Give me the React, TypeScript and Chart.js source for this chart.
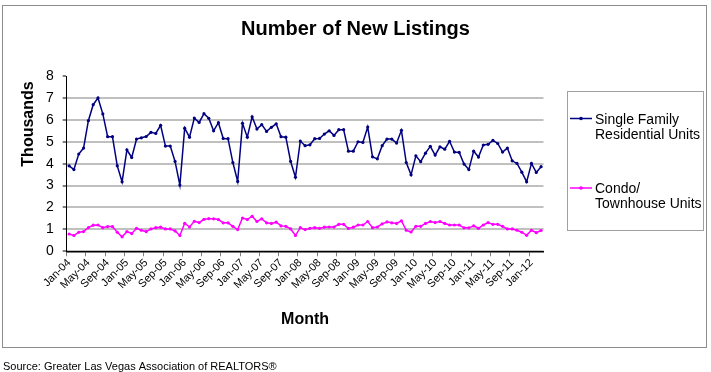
import React, { useEffect, useRef } from 'react';
import { Chart, registerables } from 'chart.js';

Chart.register(...registerables);

const TITLE = 'Number of New Listings';
const Y_TITLE = 'Thousands';
const X_TITLE = 'Month';
const SOURCE = 'Source: Greater Las Vegas Association of REALTORS®';
const SERIES_NAMES = [['Single Family', 'Residential Units'], ['Condo/', 'Townhouse Units']];
const COLORS = ['#000080', '#FF00FF'];

const MONTHS = ['Jan', 'Feb', 'Mar', 'Apr', 'May', 'Jun', 'Jul', 'Aug', 'Sep', 'Oct', 'Nov', 'Dec'];
const YEARS = ['04', '05', '06', '07', '08', '09', '10', '11', '12'];
const CATEGORIES = YEARS.flatMap((y) => MONTHS.map((m) => `${m}-${y}`)).slice(0, 99);

const Y_TICKS = [0, 1, 2, 3, 4, 5, 6, 7, 8];

const SINGLE_FAMILY = [
  3.90, 3.73, 4.44, 4.71, 5.96, 6.69, 7.00, 6.27, 5.23, 5.23, 3.90, 3.17,
  4.63, 4.28, 5.12, 5.18, 5.24, 5.43, 5.38, 5.75, 4.80, 4.80, 4.10, 3.02,
  5.62, 5.21, 6.08, 5.88, 6.28, 6.07, 5.50, 5.87, 5.15, 5.14, 4.05, 3.19,
  5.84, 5.21, 6.14, 5.58, 5.78, 5.47, 5.66, 5.82, 5.23, 5.21, 4.10, 3.38,
  5.03, 4.82, 4.86, 5.14, 5.15, 5.35, 5.50, 5.29, 5.55, 5.55, 4.57, 4.57,
  5.00, 4.97, 5.67, 4.31, 4.22, 4.82, 5.12, 5.12, 4.94, 5.52, 4.05, 3.49,
  4.36, 4.09, 4.48, 4.79, 4.39, 4.77, 4.66, 5.02, 4.53, 4.51, 3.98, 3.73,
  4.57, 4.30, 4.85, 4.88, 5.06, 4.92, 4.53, 4.71, 4.13, 4.01, 3.61, 3.17,
  4.01, 3.60, 3.86,
];

const CONDO = [
  0.79, 0.72, 0.87, 0.90, 1.08, 1.19, 1.20, 1.08, 1.13, 1.13, 0.87, 0.66,
  0.90, 0.81, 1.05, 0.96, 0.90, 1.02, 1.08, 1.10, 1.02, 1.02, 0.93, 0.72,
  1.28, 1.11, 1.37, 1.31, 1.46, 1.49, 1.48, 1.45, 1.30, 1.30, 1.14, 0.99,
  1.52, 1.45, 1.60, 1.36, 1.48, 1.30, 1.27, 1.33, 1.16, 1.14, 1.02, 0.72,
  1.08, 0.99, 1.05, 1.08, 1.05, 1.10, 1.11, 1.11, 1.23, 1.23, 1.04, 1.10,
  1.20, 1.20, 1.36, 1.08, 1.11, 1.25, 1.34, 1.30, 1.27, 1.39, 0.96, 0.88,
  1.14, 1.14, 1.27, 1.36, 1.31, 1.36, 1.27, 1.20, 1.20, 1.20, 1.07, 1.07,
  1.16, 1.05, 1.20, 1.31, 1.23, 1.23, 1.14, 1.02, 1.02, 0.96, 0.87, 0.73,
  0.96, 0.85, 0.95,
];

const FONT = '"Liberation Sans", Arial, sans-serif';

const overlayPlugin = {
  id: 'overlay',
  afterDraw(chart: any) {
    const ctx: CanvasRenderingContext2D = chart.ctx;
    const area = chart.chartArea;
    ctx.save();
    // outer border
    ctx.strokeStyle = '#8c8c8c';
    ctx.lineWidth = 1;
    ctx.strokeRect(2.5, 5.5, 704, 342);

    ctx.fillStyle = '#000';
    // title
    ctx.font = `bold 20px ${FONT}`;
    ctx.textAlign = 'center';
    ctx.textBaseline = 'alphabetic';
    ctx.fillText(TITLE, 355.5, 35);

    // x title
    ctx.font = `bold 16px ${FONT}`;
    ctx.fillText(X_TITLE, (area.left + area.right) / 2, 324);

    // y title
    ctx.save();
    ctx.translate(33, 124);
    ctx.rotate(-Math.PI / 2);
    ctx.fillText(Y_TITLE, 0, 0);
    ctx.restore();

    // source
    ctx.font = `11px ${FONT}`;
    ctx.textAlign = 'left';
    ctx.fillText(SOURCE, 3, 369.5);

    // legend
    ctx.strokeStyle = '#a0a0a0';
    ctx.lineWidth = 1;
    ctx.strokeRect(567.5, 91.5, 136, 139);
    const items = [
      { lineY: 118.5, base: [124, 139] },
      { lineY: 188, base: [192.5, 207.5] },
    ];
    ctx.font = `14px ${FONT}`;
    items.forEach((it, k) => {
      ctx.strokeStyle = COLORS[k];
      ctx.lineWidth = 1.5;
      ctx.beginPath();
      ctx.moveTo(570, it.lineY);
      ctx.lineTo(592, it.lineY);
      ctx.stroke();
      ctx.fillStyle = COLORS[k];
      ctx.beginPath();
      ctx.arc(581, it.lineY, 1.8, 0, Math.PI * 2);
      ctx.fill();
      ctx.fillStyle = '#000';
      SERIES_NAMES[k].forEach((line, j) => ctx.fillText(line, 595, it.base[j]));
    });
    ctx.restore();
  },
};

export default function App() {
  const ref = useRef<HTMLCanvasElement | null>(null);
  useEffect(() => {
    document.body.style.margin = '0';
    const canvas = ref.current;
    if (!canvas) return;
    const chart = new Chart(canvas, {
      type: 'line',
      data: {
        labels: CATEGORIES,
        datasets: [
          {
            label: SERIES_NAMES[0].join(' '),
            data: SINGLE_FAMILY,
            borderColor: COLORS[0],
            backgroundColor: COLORS[0],
            borderWidth: 1.5,
            pointRadius: 1.6,
            pointBorderWidth: 0,
            pointBackgroundColor: COLORS[0],
            tension: 0,
          },
          {
            label: SERIES_NAMES[1].join(' '),
            data: CONDO,
            borderColor: COLORS[1],
            backgroundColor: COLORS[1],
            borderWidth: 1.5,
            pointRadius: 1.6,
            pointBorderWidth: 0,
            pointBackgroundColor: COLORS[1],
            tension: 0,
          },
        ],
      },
      options: {
        animation: false,
        responsive: false,
        devicePixelRatio: 1,
        layout: { padding: { top: 76, right: 167.5, left: 0, bottom: 0 } },
        plugins: {
          legend: { display: false },
          title: { display: false },
          tooltip: { enabled: false },
        },
        scales: {
          x: {
            type: 'category',
            offset: true,
            grid: {
              offset: true,
              drawOnChartArea: false,
              drawTicks: true,
              tickLength: 5,
              color: 'rgba(0,0,0,0)',
              tickColor: (c: any) => (c.index % 4 === 0 ? '#808080' : 'rgba(0,0,0,0)'),
            },
            border: { color: '#000', width: 1.5 },
            ticks: {
              autoSkip: false,
              maxRotation: 45,
              minRotation: 45,
              padding: 0,
              color: '#000',
              font: { family: FONT, size: 11 },
              callback: (_v: any, i: number) => (i % 4 === 0 ? CATEGORIES[i] : ''),
            },
            afterFit: (s: any) => {
              s.height = 120.7;
            },
          },
          y: {
            min: 0,
            max: 8,
            afterBuildTicks: (s: any) => {
              s.ticks = Y_TICKS.map((v) => ({ value: v }));
            },
            ticks: {
              stepSize: 1,
              padding: 9,
              color: '#000',
              font: { family: FONT, size: 14 },
            },
            grid: {
              color: (c: any) => (c.tick && c.tick.value === 8 ? 'rgba(0,0,0,0)' : '#c0c0c0'),
              lineWidth: 2,
              tickColor: '#808080',
              tickLength: 4,
            },
            border: { color: '#000', width: 1 },
            afterFit: (s: any) => {
              s.width = 66.7;
            },
          },
        },
      },
      plugins: [overlayPlugin],
    });
    return () => chart.destroy();
  }, []);
  return (
    <div style={{ width: 711, height: 372, background: '#fff' }}>
      <canvas ref={ref} width={711} height={372} style={{ display: 'block' }} />
    </div>
  );
}
